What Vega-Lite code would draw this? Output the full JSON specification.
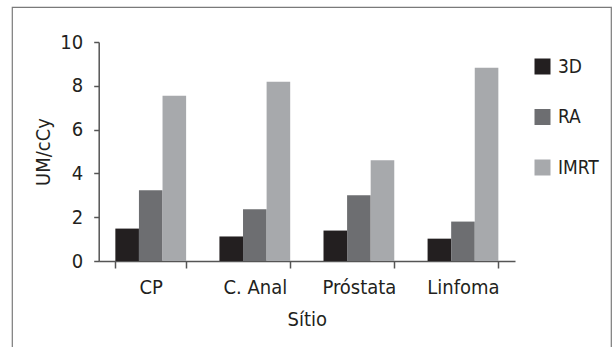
{
  "$schema": "https://vega.github.io/schema/vega-lite/v6.json",
  "autosize": {"type": "none"},
  "padding": {"left": 12, "top": 7, "right": 1, "bottom": 0},
  "width": 599,
  "height": 345,
  "background": "white",
  "config": {
    "view": {"stroke": "#7a7a7a", "strokeWidth": 1.2},
    "font": "DejaVu Sans Condensed, Roboto, sans-serif",
    "axis": {"grid": false}
  },
  "data": {
    "values": [
      {"site": "CP", "method": "3D", "value": 1.48},
      {"site": "CP", "method": "RA", "value": 3.23},
      {"site": "CP", "method": "IMRT", "value": 7.55},
      {"site": "C. Anal", "method": "3D", "value": 1.12},
      {"site": "C. Anal", "method": "RA", "value": 2.36},
      {"site": "C. Anal", "method": "IMRT", "value": 8.19},
      {"site": "Próstata", "method": "3D", "value": 1.39},
      {"site": "Próstata", "method": "RA", "value": 3.0},
      {"site": "Próstata", "method": "IMRT", "value": 4.6},
      {"site": "Linfoma", "method": "3D", "value": 1.02},
      {"site": "Linfoma", "method": "RA", "value": 1.8},
      {"site": "Linfoma", "method": "IMRT", "value": 8.82}
    ]
  },
  "mark": {"type": "bar"},
  "encoding": {
    "x": {
      "field": "site",
      "type": "nominal",
      "sort": ["CP", "C. Anal", "Próstata", "Linfoma"],
      "scale": {"range": [86.7, 503], "paddingInner": 0.32, "paddingOuter": 0.16},
      "axis": {
        "title": "Sítio",
        "offset": -91,
        "labelAngle": 0,
        "tickBand": "extent",
        "tickSize": 7,
        "domainColor": "#555555",
        "tickColor": "#555555",
        "domainWidth": 1.5,
        "tickWidth": 1.5,
        "labelFontSize": 20,
        "titleFontSize": 20,
        "titleFontWeight": "normal",
        "labelColor": "#231f20",
        "titleColor": "#231f20",
        "labelPadding": 9,
        "titlePadding": 12
      }
    },
    "xOffset": {
      "field": "method",
      "sort": ["3D", "RA", "IMRT"],
      "scale": {"paddingInner": 0, "paddingOuter": 0}
    },
    "y": {
      "field": "value",
      "type": "quantitative",
      "scale": {"domain": [0, 10], "range": [254, 35], "nice": false, "zero": true},
      "axis": {
        "title": "UM/cCy",
        "offset": -86.7,
        "values": [0, 2, 4, 6, 8, 10],
        "tickSize": 5,
        "domainColor": "#555555",
        "tickColor": "#555555",
        "domainWidth": 1.5,
        "tickWidth": 1.5,
        "labelFontSize": 20,
        "titleFontSize": 20,
        "titleFontWeight": "normal",
        "labelColor": "#231f20",
        "titleColor": "#231f20",
        "labelPadding": 11,
        "titlePadding": 6
      }
    },
    "color": {
      "field": "method",
      "type": "nominal",
      "sort": ["3D", "RA", "IMRT"],
      "scale": {"domain": ["3D", "RA", "IMRT"], "range": ["#231f20", "#6d6e71", "#a7a9ac"]},
      "legend": {
        "title": null,
        "orient": "none",
        "legendX": 521,
        "legendY": 50,
        "symbolType": "square",
        "symbolSize": 256,
        "symbolStrokeWidth": 0,
        "symbolOpacity": 1,
        "labelFontSize": 19,
        "labelColor": "#231f20",
        "labelOffset": 6,
        "rowPadding": 30.5
      }
    }
  }
}
